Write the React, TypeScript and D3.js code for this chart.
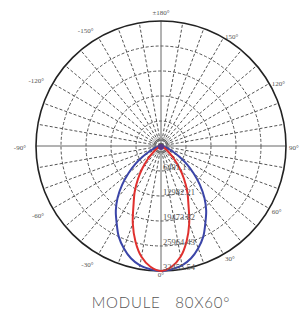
import React from 'react';
import * as d3 from 'd3';

// photometric data, intensity in cd, angle from nadir (deg)
const angles = [0, 5, 10, 15, 20, 25, 30, 35, 40, 45, 50, 55, 60, 65, 70, 75, 80, 85, 90];
const blueCd = [32455, 32130, 31480, 30180, 28240, 25960, 23040, 20450, 17530, 14280, 11030, 8110, 5520, 3250, 1950, 970, 490, 160, 0];
const redCd = [32455, 31480, 29210, 25640, 21420, 16880, 13630, 10390, 7460, 4870, 2920, 1620, 970, 490, 260, 130, 65, 30, 0];
const ringValues = [6491, 12982, 19473, 25964, 32455];
const ringLabels = ['6491.1', '12982.21', '19473.32', '25964.43', '32455.54'];
const angleTicks = [180, -150, 150, -120, 120, -90, 90, -60, 60, -30, 30, 0];
const title = 'MODULE   80X60°';

const W = 302, H = 311;
const cx = 161, cy = 146, R = 125;

const rScale = d3.scaleLinear().domain([0, 32455]).range([0, R]);
const rad = (deg: number) => (deg * Math.PI) / 180;
// 0° points down, negative to the left
const px = (deg: number, r: number) => cx + r * Math.sin(rad(deg));
const py = (deg: number, r: number) => cy + r * Math.cos(rad(deg));

function curve(values: number[]) {
  const pts: [number, number][] = [];
  for (let i = angles.length - 1; i > 0; i--) pts.push([-angles[i], values[i]]);
  for (let i = 0; i < angles.length; i++) pts.push([angles[i], values[i]]);
  const line = d3
    .line<[number, number]>()
    .x(d => px(d[0], rScale(d[1])))
    .y(d => py(d[0], rScale(d[1])))
    .curve(d3.curveCatmullRom);
  return line(pts) || '';
}

export default function App() {
  const spokes = d3.range(0, 360, 10);
  return (
    <svg width={W} height={H} style={{ position: 'absolute', left: 0, top: 0, background: '#fff' }}>
      {/* dashed rings */}
      {ringValues.slice(0, 4).map(v => (
        <circle key={v} cx={cx} cy={cy} r={rScale(v)} fill="none" stroke="#555" strokeWidth={1} strokeDasharray="3,2" />
      ))}
      {[3, 6, 9].map(r => (
        <circle key={'c' + r} cx={cx} cy={cy} r={r} fill="none" stroke="#aaa" strokeWidth={0.8} />
      ))}
      {/* dashed spokes */}
      {spokes.filter(a => a % 90 !== 0).map(a => (
        <line key={a} x1={cx} y1={cy} x2={px(a, R)} y2={py(a, R)} stroke="#555" strokeWidth={1} strokeDasharray="3,2" />
      ))}
      {/* axes */}
      <line x1={cx - R} y1={cy} x2={cx + R} y2={cy} stroke="#666" strokeWidth={1} />
      <line x1={cx} y1={cy - R} x2={cx} y2={cy + R} stroke="#666" strokeWidth={1} />
      <circle cx={cx} cy={cy} r={R} fill="none" stroke="#222" strokeWidth={1.6} />
      {/* angle labels */}
      {angleTicks.map(a => {
        const r = a < 0 ? R + 10 : R + 3;
        const x = px(a, r);
        const y = a === 180 ? cy - R - 6 : a === 0 ? py(a, r) + 3 : py(a, r) + 4;
        const anchor = a === 0 || a === 180 ? 'middle' : a < 0 ? 'end' : 'start';
        const label = a === 180 ? '±180°' : `${a}°`;
        return (
          <text key={a} x={x} y={y} textAnchor={anchor}
            fontFamily="'Liberation Serif', serif" fontSize={7} fill="#555">
            {label}
          </text>
        );
      })}
      {/* curves */}
      <path d={curve(blueCd)} fill="none" stroke="#3b45a8" strokeWidth={2} />
      <path d={curve(redCd)} fill="none" stroke="#e0302e" strokeWidth={2} />
      <circle cx={cx} cy={cy + 1} r={3} fill="#5a3a8a" />
      {/* ring labels */}
      {ringValues.map((v, i) => (
        <text key={v} x={cx + 2} y={cy + rScale(v) - 1} fontFamily="'Liberation Serif', serif" fontSize={8.5} fill="#555">
          {ringLabels[i]}
        </text>
      ))}
      <text x={cx} y={308} textAnchor="middle" fontFamily="Lato, 'DejaVu Sans', sans-serif" fontWeight={300}
        fontSize={15} fill="#555" letterSpacing={0.8} style={{ whiteSpace: 'pre' }}>
        {title}
      </text>
    </svg>
  );
}
